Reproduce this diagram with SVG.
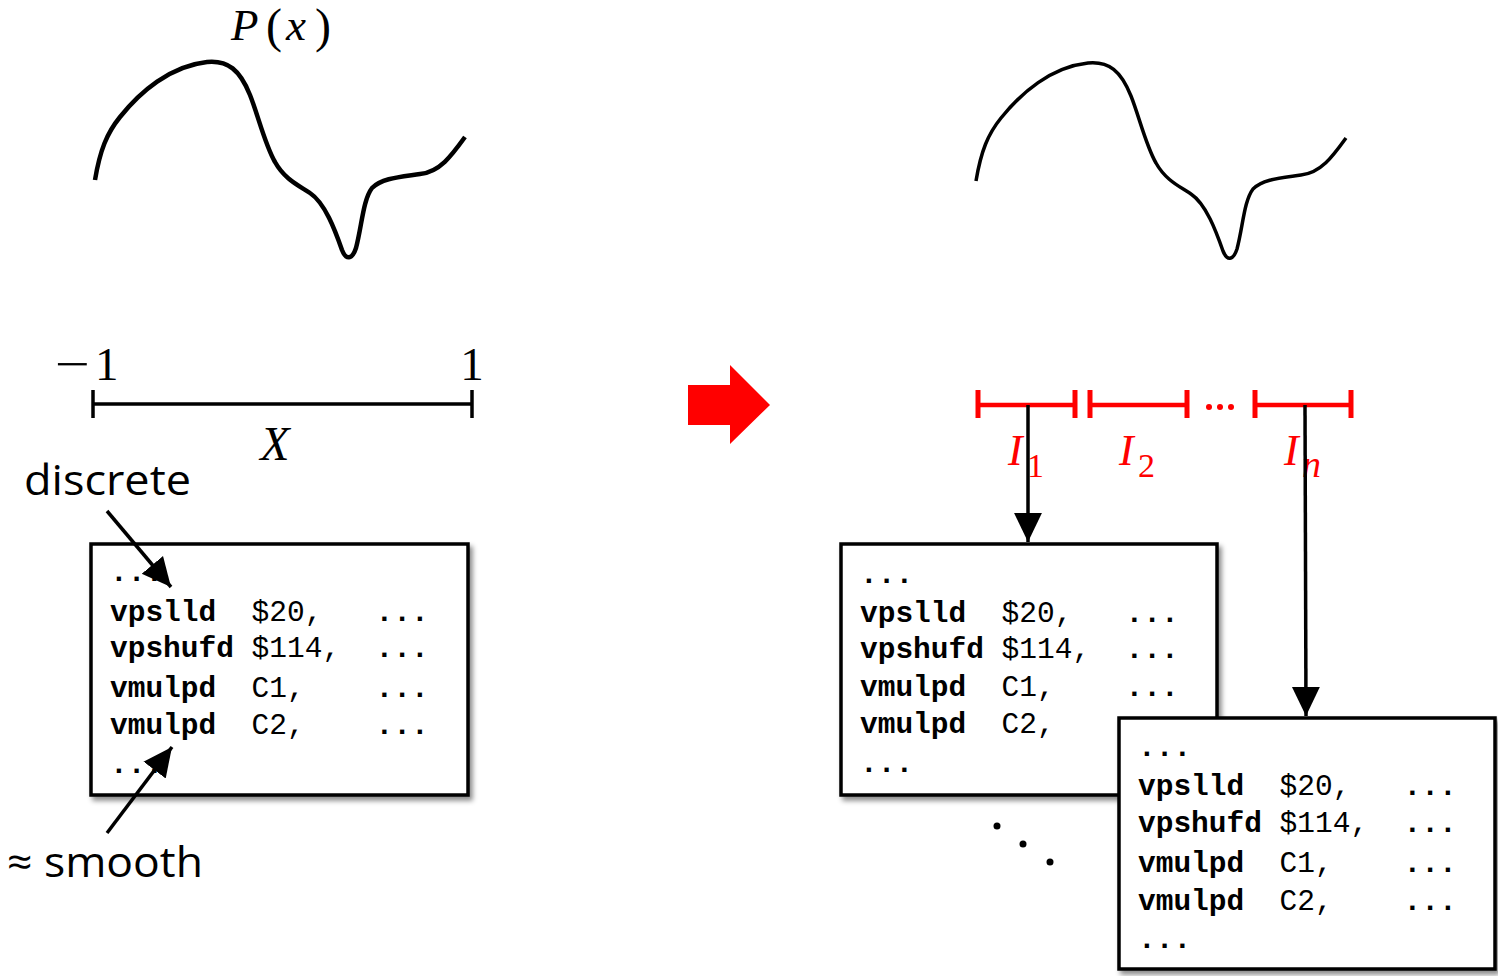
<svg xmlns="http://www.w3.org/2000/svg" width="1498" height="976" viewBox="0 0 1498 976">
<style>
.curve{fill:none;stroke:#000;stroke-linecap:butt;stroke-linejoin:round}
.math{font-family:"Liberation Serif","DejaVu Serif",serif;fill:#000}
.it{font-style:italic}
.lbl{font-family:"Open Sans","Liberation Sans",sans-serif;font-size:42px;fill:#000}
.code{font-family:"Liberation Mono","DejaVu Sans Mono",monospace;font-size:29.5px;fill:#000}
.b{font-weight:bold}
.box{fill:#fff;stroke:#000;stroke-width:3.5}
.conn{stroke:#000;stroke-width:3.5;fill:none}
.red{stroke:#ff0000;fill:none}
.redt{font-family:"Liberation Serif","DejaVu Serif",serif;font-style:italic;fill:#ff0000}
</style>
<defs>
<filter id="sh" x="-10%" y="-10%" width="130%" height="130%">
<feDropShadow dx="3" dy="4" stdDeviation="2.5" flood-color="#000" flood-opacity="0.45"/>
</filter>
<marker id="ah" markerUnits="userSpaceOnUse" markerWidth="30" markerHeight="30" viewBox="0 0 28 28" refX="27" refY="14" orient="auto">
<path d="M0,1 L27,14 L0,27 Z" fill="#000"/>
</marker>
<path id="wave" d="M95,180 C100,150 107,133 120,117 C140,92 170,66 207,62 C228,60 240,70 250,95 C258,115 265,145 275,162 C285,180 300,186 310,193 C325,203 335,230 342,250 C346,260 352,260 356,248 C362,225 363,200 372,188 C382,178 400,177 420,174 C440,172 452,155 465,137"/>
</defs>

<g id="left-curve">
<use href="#wave" class="curve" style="stroke-width:4.5"/>
<text class="math" font-size="45" y="40"><tspan class="it" x="231">P</tspan><tspan x="266" font-size="48" y="42">(</tspan><tspan class="it" x="286" y="40">x</tspan><tspan x="315" font-size="48" y="42">)</tspan></text>
</g>

<g id="left-axis">
<line x1="93" y1="404" x2="472" y2="404" stroke="#000" stroke-width="3.5"/>
<line x1="93" y1="390" x2="93" y2="418" stroke="#000" stroke-width="3.5"/>
<line x1="472" y1="390" x2="472" y2="418" stroke="#000" stroke-width="3.5"/>
<text class="math" font-size="47" x="55" y="380" textLength="35" lengthAdjust="spacingAndGlyphs">−</text>
<text class="math" font-size="47" x="95" y="380">1</text>
<text class="math" font-size="47" y="380" x="472" text-anchor="middle">1</text>
<text class="math it" font-size="48" x="275" y="460" text-anchor="middle">X</text>
</g>

<g id="left-box" transform="translate(91,544)">
<rect class="box" x="0" y="0" width="377" height="251" filter="url(#sh)"/>
<text class="code b" x="19" y="37">...</text>
<text class="code b" x="19" y="77">vpslld</text><text class="code" x="160.6" y="77">$20,</text><text class="code b" x="284.5" y="77">...</text>
<text class="code b" x="19" y="113">vpshufd</text><text class="code" x="160.6" y="113">$114,</text><text class="code b" x="284.5" y="113">...</text>
<text class="code b" x="19" y="153">vmulpd</text><text class="code" x="160.6" y="153">C1,</text><text class="code b" x="284.5" y="153">...</text>
<text class="code b" x="19" y="190">vmulpd</text><text class="code" x="160.6" y="190">C2,</text><text class="code b" x="284.5" y="190">...</text>
<text class="code b" x="19" y="229">...</text>
</g>

<g id="label-discrete">
<text class="lbl" x="24" y="495" textLength="167" lengthAdjust="spacingAndGlyphs">discrete</text>
</g>
<g id="label-smooth">
<text class="lbl" x="7" y="877" textLength="196" lengthAdjust="spacingAndGlyphs">≈ smooth</text>
</g>

<g id="red-arrow">
<polygon points="688,385 730,385 730,365 770,405 730,444 730,425 688,425" fill="#ff0000"/>
</g>

<g id="right-curve">
<use href="#wave" class="curve" style="stroke-width:3.5" transform="translate(881,1)"/>
</g>

<g id="intervals">
<g class="red" stroke-width="4.5">
<line x1="978" y1="405" x2="1075" y2="405"/>
<line x1="1090" y1="405" x2="1187" y2="405"/>
<line x1="1255" y1="405" x2="1351" y2="405"/>
</g>
<g class="red" stroke-width="5">
<line x1="978" y1="390" x2="978" y2="418"/>
<line x1="1075" y1="390" x2="1075" y2="418"/>
<line x1="1090" y1="390" x2="1090" y2="418"/>
<line x1="1187" y1="390" x2="1187" y2="418"/>
<line x1="1255" y1="390" x2="1255" y2="418"/>
<line x1="1351" y1="390" x2="1351" y2="418"/>
</g>
<g fill="#ff0000">
<circle cx="1209" cy="407" r="3"/>
<circle cx="1220" cy="407" r="3"/>
<circle cx="1231" cy="407" r="3"/>
</g>
<text class="redt" font-size="44" x="1008" y="465">I</text><text class="redt" font-size="34" x="1027" y="477" style="font-style:normal">1</text>
<text class="redt" font-size="44" x="1119" y="465">I</text><text class="redt" font-size="34" x="1138" y="477" style="font-style:normal">2</text>
<text class="redt" font-size="44" x="1284" y="465">I</text><text class="redt" font-size="38" x="1302" y="477">n</text>
</g>

<g id="right-box-1" transform="translate(841,544)">
<rect class="box" x="0" y="0" width="376" height="251" filter="url(#sh)"/>
<text class="code b" x="19" y="39">...</text>
<text class="code b" x="19" y="78">vpslld</text><text class="code" x="160.6" y="78">$20,</text><text class="code b" x="284.5" y="78">...</text>
<text class="code b" x="19" y="114">vpshufd</text><text class="code" x="160.6" y="114">$114,</text><text class="code b" x="284.5" y="114">...</text>
<text class="code b" x="19" y="152">vmulpd</text><text class="code" x="160.6" y="152">C1,</text><text class="code b" x="284.5" y="152">...</text>
<text class="code b" x="19" y="189">vmulpd</text><text class="code" x="160.6" y="189">C2,</text>
<text class="code b" x="19" y="228">...</text>
</g>

<g id="right-box-2" transform="translate(1119,718)">
<rect class="box" x="0" y="0" width="376" height="251" filter="url(#sh)"/>
<text class="code b" x="19" y="38">...</text>
<text class="code b" x="19" y="77">vpslld</text><text class="code" x="160.6" y="77">$20,</text><text class="code b" x="284.5" y="77">...</text>
<text class="code b" x="19" y="114">vpshufd</text><text class="code" x="160.6" y="114">$114,</text><text class="code b" x="284.5" y="114">...</text>
<text class="code b" x="19" y="154">vmulpd</text><text class="code" x="160.6" y="154">C1,</text><text class="code b" x="284.5" y="154">...</text>
<text class="code b" x="19" y="192">vmulpd</text><text class="code" x="160.6" y="192">C2,</text><text class="code b" x="284.5" y="192">...</text>
<text class="code b" x="19" y="230">...</text>
</g>

<g id="diag-dots" fill="#000">
<circle cx="997" cy="826" r="3.5"/>
<circle cx="1023" cy="844" r="3.5"/>
<circle cx="1050" cy="862" r="3.5"/>
</g>

<g id="connectors">
<line class="conn" x1="107" y1="511" x2="171" y2="587" marker-end="url(#ah)"/>
<line class="conn" x1="107" y1="833" x2="172" y2="747" marker-end="url(#ah)"/>
<line class="conn" x1="1028" y1="405" x2="1028" y2="542" marker-end="url(#ah)"/>
<line class="conn" x1="1305" y1="405" x2="1306" y2="716" marker-end="url(#ah)"/>
</g>
</svg>
